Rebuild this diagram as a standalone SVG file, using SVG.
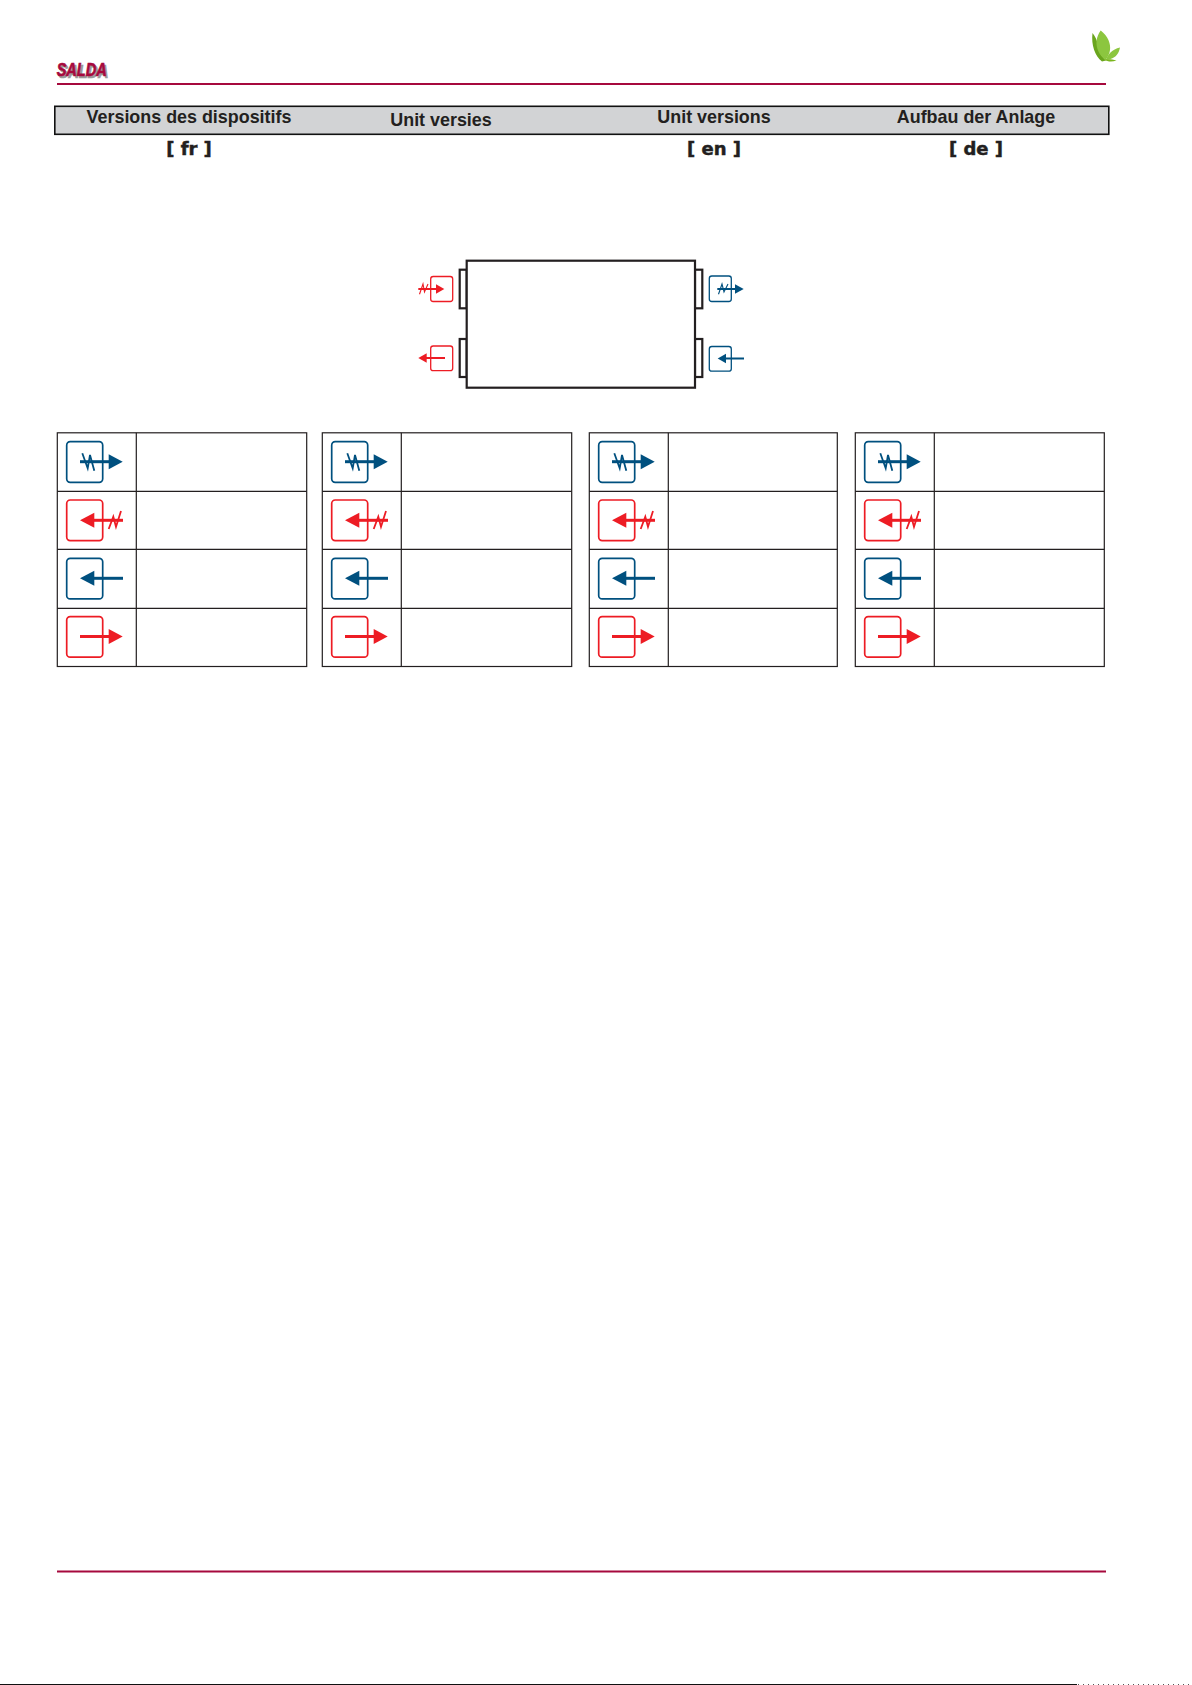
<svg xmlns="http://www.w3.org/2000/svg" width="1192" height="1685" viewBox="0 0 1192 1685">
<style>
.hd{font-family:"Liberation Sans",Arial,sans-serif;font-weight:700;font-size:17.9px;fill:#231f20;text-anchor:middle}
.lg{font-family:"DejaVu Sans",sans-serif;font-weight:700;font-size:18px;fill:#231f20;stroke:#231f20;stroke-width:.5;text-anchor:middle}
.rule{fill:#a6093d}
.tb{fill:#fff;stroke:#231f20;stroke-width:1.2}
.blue{stroke:#00507f;fill:none}
.red{stroke:#ed1c24;fill:none}
.bf{fill:#00507f}
.rf{fill:#ed1c24}
.u{fill:#fff;stroke:#231f20;stroke-width:2.2}
.sd{font-family:"Liberation Sans",sans-serif;font-weight:700;font-style:italic;font-size:18.5px;stroke-width:.7}
</style>
<defs>
<g id="i-blue-z"><rect class="blue" x="66.7" y="441.7" width="36" height="40.6" rx="3.5" stroke-width="1.7"/><path class="blue" stroke-width="3" d="M80 461.7H110"/><path class="bf" d="M108.7 454.2L122.7 461.7L108.7 469.2Z"/><path class="blue" stroke-width="1.8" d="M82.3 453.3L87.7 468.3L90 455L94.3 470.7"/></g>
<g id="i-red-z"><rect class="red" x="66.7" y="500" width="36" height="40.6" rx="3.5" stroke-width="1.7"/><path class="red" stroke-width="3" d="M92 520.3H123"/><path class="rf" d="M94.3 512.8L80 520.3L94.3 527.8Z"/><path class="red" stroke-width="1.8" d="M108.7 529L113.3 516.7L116 526.7L121 511"/></g>
<g id="i-blue"><rect class="blue" x="66.7" y="558.3" width="36" height="40.6" rx="3.5" stroke-width="1.7"/><path class="blue" stroke-width="3" d="M92 578.3H123"/><path class="bf" d="M94.3 570.8L80 578.3L94.3 585.8Z"/></g>
<g id="i-red"><rect class="red" x="66.7" y="616.6" width="36" height="40.6" rx="3.5" stroke-width="1.7"/><path class="red" stroke-width="3" d="M80 636.5H110"/><path class="rf" d="M108.7 629L122.7 636.5L108.7 644Z"/></g>
<g id="icons"><use href="#i-blue-z"/><use href="#i-red-z"/><use href="#i-blue"/><use href="#i-red"/></g>
</defs>
<g id="header">
<text class="sd" x="58.5" y="78" fill="#9a9a9a" stroke="#9a9a9a" textLength="50" lengthAdjust="spacingAndGlyphs">SALDA</text>
<text class="sd" x="56.7" y="76" fill="#a6093d" stroke="#a6093d" textLength="50" lengthAdjust="spacingAndGlyphs">SALDA</text>
<rect class="rule" x="57" y="83" width="1049" height="2"/>
<g id="leaf">
<path fill="#6aa51d" d="M1092.5 33C1095 36 1097 40 1098 45C1099 52 1102 57 1106 60.5L1102 61.5C1095 56 1091 45 1092.5 33Z"/>
<path fill="#8cc63f" d="M1100.7 30.5C1108 36 1111 44 1110 50C1109.5 54 1107.5 57.5 1105.5 60C1099 55 1096 48 1096.5 41C1097 37 1098.5 33.5 1100.7 30.5Z"/>
<path fill="#8cc63f" d="M1120 47.5C1119 53 1116 57.5 1110.5 59C1109 59.5 1107.5 59.5 1106 60C1108 54 1112 49.5 1120 47.5Z"/>
<path fill="#7ab51d" d="M1104 59.5C1108 62 1112 62 1116.5 60.5C1112 59 1108 59 1104 59.5Z"/>
</g>
</g>
<g id="title-bar">
<rect x="54.8" y="106.3" width="1054" height="28" fill="#d2d3d5" stroke="#111" stroke-width="1.6"/>
<text class="hd" x="189" y="123">Versions des dispositifs</text>
<text class="hd" x="441" y="126">Unit versies</text>
<text class="hd" x="714" y="123">Unit versions</text>
<text class="hd" x="976" y="123">Aufbau der Anlage</text>
<text class="lg" x="189" y="154.5">[ fr ]</text>
<text class="lg" x="714" y="154.5">[ en ]</text>
<text class="lg" x="976" y="154.5">[ de ]</text>
</g>
<g id="unit">
<rect class="u" x="459.7" y="269.7" width="7" height="38.6"/><rect class="u" x="459.7" y="339" width="7" height="38"/>
<rect class="u" x="695" y="269.7" width="7.3" height="38.6"/><rect class="u" x="695" y="339" width="7.3" height="38"/>
<rect class="u" x="466.7" y="260.7" width="228.3" height="127"/>
</g>
<g id="port-red-top"><rect class="red" x="430.7" y="276.5" width="22" height="25" rx="2.5" stroke-width="1.3"/><path class="red" stroke-width="2" d="M418.3 289H438"/><path class="rf" d="M436 284.3L444.3 289L436 293.7Z"/><path class="red" stroke-width="1.1" d="M419.5 294.3L423 284L424.5 292L428 284"/></g>
<g id="port-red-bottom"><rect class="red" x="430.7" y="346" width="22" height="24.7" rx="2.5" stroke-width="1.3"/><path class="red" stroke-width="2" d="M425 358H445"/><path class="rf" d="M426.7 353.3L418.3 358L426.7 362.7Z"/></g>
<g id="port-blue-top"><rect class="blue" x="709.3" y="276" width="22" height="25.5" rx="2.5" stroke-width="1.3"/><path class="blue" stroke-width="2" d="M717.3 289H737"/><path class="bf" d="M735 284.3L743.7 289L735 293.7Z"/><path class="blue" stroke-width="1.1" d="M718.5 294.3L722 284L724 292L728 284"/></g>
<g id="port-blue-bottom"><rect class="blue" x="709.3" y="346.5" width="22" height="24.7" rx="2.5" stroke-width="1.3"/><path class="blue" stroke-width="2" d="M724 358.5H744"/><path class="bf" d="M726 353.8L717.7 358.5L726 363.2Z"/></g>
<g id="table-fr"><rect class="tb" x="57.3" y="432.8" width="249.4" height="233.7"/><path class="tb" d="M136.3 432.8V666.5M57.3 491.3H306.7M57.3 549.3H306.7M57.3 608.3H306.7"/><use href="#icons"/></g>
<g id="table-nl"><rect class="tb" x="322.3" y="432.8" width="249.4" height="233.7"/><path class="tb" d="M401.3 432.8V666.5M322.3 491.3H571.7M322.3 549.3H571.7M322.3 608.3H571.7"/><use href="#icons" x="265"/></g>
<g id="table-en"><rect class="tb" x="589.3" y="432.8" width="248" height="233.7"/><path class="tb" d="M668.3 432.8V666.5M589.3 491.3H837.3M589.3 549.3H837.3M589.3 608.3H837.3"/><use href="#icons" x="532"/></g>
<g id="table-de"><rect class="tb" x="855.3" y="432.8" width="249" height="233.7"/><path class="tb" d="M934.3 432.8V666.5M855.3 491.3H1104.3M855.3 549.3H1104.3M855.3 608.3H1104.3"/><use href="#icons" x="798"/></g>
<rect class="rule" x="57" y="1570.5" width="1049" height="2"/>
<rect x="0" y="1684" width="1077" height="1" fill="#111"/>
<path d="M1078 1684.5H1192" stroke="#555" stroke-width="1" stroke-dasharray="1 4" fill="none"/>
</svg>
